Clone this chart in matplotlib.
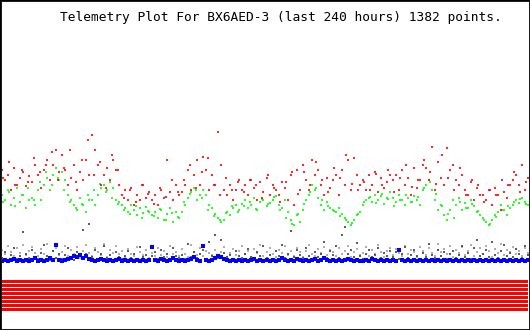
import numpy as np
import matplotlib.pyplot as plt
from matplotlib.patches import Rectangle

title = "Telemetry Plot For BX6AED-3 (last 240 hours) 1382 points."

# channel values (one sample every ~1.4 h)
red = [160, 150, 155, 140, 162, 145, 152, 158, 144, 154,
       148, 165, 155, 142, 160, 170, 150, 165, 180, 158,
       175, 160, 145, 152, 165, 140, 158, 150, 170, 155,
       195, 180, 165, 145, 155, 162, 150, 170, 160, 145,
       135, 140, 130, 142, 125, 135, 130, 145, 132, 138,
       130, 135, 125, 140, 132, 170, 138, 130, 145, 135,
       138, 145, 160, 140, 155, 170, 145, 173, 160, 140,
       155, 145, 198, 165, 140, 135, 145, 130, 140, 150,
       140, 145, 135, 150, 142, 130, 148, 138, 152, 135,
       145, 140, 135, 148, 142, 130, 155, 125, 160, 140,
       165, 150, 140, 170, 155, 160, 145, 135, 152, 142,
       150, 155, 135, 160, 145, 170, 140, 172, 155, 145,
       150, 140, 155, 145, 158, 138, 152, 142, 148, 155,
       150, 155, 140, 160, 145, 152, 135, 162, 142, 150,
       165, 162, 150, 183, 140, 168, 152, 145, 182, 160,
       165, 150, 145, 155, 140, 135, 148, 130, 142, 135,
       135, 130, 140, 125, 142, 135, 120, 138, 132, 145,
       150, 155, 145, 165, 140, 152]

green = [135, 130, 140, 125, 132, 142, 128, 135, 122, 130,
         132, 125, 140, 130, 145, 152, 140, 155, 162, 150,
         158, 150, 135, 130, 125, 120, 132, 125, 118, 130,
         130, 125, 135, 142, 145, 140, 148, 142, 130, 128,
         125, 122, 118, 125, 120, 115, 122, 117, 123, 118,
         115, 118, 112, 120, 110, 116, 122, 108, 118, 112,
         118, 125, 132, 138, 142, 130, 135, 140, 135, 125,
         122, 116, 112, 108, 110, 118, 115, 122, 125, 120,
         126, 130, 122, 125, 132, 120, 128, 130, 124, 127,
         130, 134, 125, 122, 130, 118, 110, 105, 115, 108,
         120, 130, 135, 145, 140, 132, 125, 120, 128, 122,
         120, 118, 122, 116, 112, 108, 105, 110, 115, 118,
         125, 130, 132, 128, 135, 130, 134, 126, 132, 138,
         132, 128, 135, 130, 125, 132, 128, 134, 130, 125,
         140, 145, 150, 140, 130, 120, 125, 115, 110, 120,
         130, 125, 132, 120, 127, 122, 130, 124, 118, 115,
         112, 108, 105, 110, 115, 118, 125, 120, 115, 122,
         125, 130, 127, 132, 128, 125]

# in-between samples (every ~2.7 h)
red_b = [152, 168, 145, 160, 148, 172, 158, 165, 178, 150,
         162, 180, 148, 170, 190, 155, 168, 142, 175, 160,
         132, 140, 128, 145, 136, 126, 142, 133, 150, 138,
         150, 165, 142, 158, 172, 145, 135, 152, 140, 148,
         138, 150, 145, 132, 155, 142, 128, 148, 158, 136,
         158, 145, 168, 150, 138, 162, 152, 175, 146, 140,
         148, 140, 156, 145, 160, 138, 152, 165, 143, 150,
         170, 158, 146, 175, 152, 140, 162, 135, 150, 145,
         128, 140, 135, 150, 145, 158, 138, 148]

green_b = [128, 138, 124, 135, 142, 130, 148, 158, 145, 152,
           140, 128, 122, 126, 135, 140, 146, 138, 132, 126,
           120, 116, 124, 112, 119, 114, 121, 110, 117, 113,
           128, 136, 140, 132, 120, 114, 110, 117, 124, 118,
           124, 128, 121, 131, 126, 133, 120, 112, 106, 116,
           126, 138, 142, 130, 124, 119, 114, 110, 107, 116,
           128, 133, 127, 136, 131, 124, 130, 135, 128, 133,
           142, 148, 136, 124, 116, 112, 128, 122, 126, 119,
           110, 106, 113, 120, 124, 128, 131, 126]

dark = [72, 78, 70, 75, 82, 71, 74, 98, 76, 72,
        80, 73, 71, 77, 85, 74, 70, 79, 72, 76,
        71, 75, 82, 73, 70, 78, 74, 100, 76, 106,
        73, 80, 71, 76, 84, 72, 75, 70, 78, 73,
        71, 74, 79, 72, 76, 70, 83, 73, 75, 71,
        74, 78, 71, 80, 73, 76, 70, 82, 74, 72,
        75, 71, 86, 73, 78, 72, 76, 80, 71, 88,
        74, 95, 72, 90, 77, 73, 75, 71, 79, 74,
        72, 76, 81, 73, 70, 78, 74, 84, 72, 75,
        71, 79, 74, 85, 72, 76, 99, 73, 80, 75,
        72, 82, 74, 71, 78, 73, 76, 88, 72, 79,
        75, 84, 72, 95, 103, 76, 80, 73, 87, 74,
        71, 76, 80, 73, 75, 82, 72, 77, 74, 79,
        73, 78, 71, 76, 83, 72, 75, 80, 74, 71,
        77, 73, 86, 75, 72, 80, 74, 78, 71, 76,
        79, 72, 75, 84, 73, 77, 71, 82, 90, 74,
        76, 80, 73, 88, 75, 72, 79, 85, 74, 77,
        73, 81, 76, 72, 84, 75]

light = [80, 76, 84, 78, 74, 82, 77, 85, 75, 79,
         83, 77, 74, 81, 76, 86, 73, 79, 82, 75,
         78, 84, 74, 80, 76, 83, 72, 79, 85, 77,
         74, 82, 78, 75, 86, 73, 80, 77, 84, 76,
         79, 73, 81, 76, 74, 83, 78, 75, 80, 72,
         77, 74, 82, 75, 79, 73, 84, 76, 78, 74,
         81, 76, 73, 85, 78, 75, 82, 74, 79, 77,
         75, 80, 74, 78, 83, 73, 77, 81, 75, 79,
         84, 76, 79, 73, 81, 77, 85, 74, 78, 82,
         76, 73, 80, 77, 84, 75, 79, 74, 82, 78,
         73, 79, 85, 76, 74, 81, 77, 83, 75, 80,
         78, 74, 82, 76, 79, 84, 73, 78, 81, 75,
         77, 83, 74, 80, 76, 85, 78, 73, 79, 82,
         75, 81, 77, 74, 84, 76, 80, 78, 73, 83,
         79, 75, 82, 77, 74, 86, 78, 81, 76, 84,
         73, 80, 77, 83, 75, 79, 85, 74, 78, 82,
         76, 84, 79, 73, 81, 77, 86, 75, 80, 78,
         83, 76, 79, 74, 82, 77]

blue = [69, 70, 69, 70, 71, 69, 70, 69, 70, 69,
        70, 72, 69, 70, 69, 70, 72, 70, 85, 70,
        69, 70, 71, 72, 74, 73, 75, 72, 74, 71,
        70, 69, 70, 71, 70, 69, 70, 69, 70, 71,
        69, 70, 69, 70, 69, 70, 69, 70, 69, 70,
        83, 70, 69, 71, 70, 69, 70, 72, 70, 69,
        70, 69, 70, 71, 73, 70, 69, 84, 70, 69,
        70, 72, 74, 73, 71, 70, 69, 70, 69, 70,
        69, 70, 69, 70, 71, 69, 70, 69, 70, 69,
        70, 69, 70, 72, 70, 69, 70, 69, 71, 70,
        69, 70, 69, 70, 71, 69, 70, 72, 70, 69,
        70, 69, 70, 69, 70, 71, 70, 69, 70, 69,
        69, 70, 69, 71, 70, 69, 70, 69, 70, 69,
        70, 69, 80, 70, 69, 70, 69, 70, 69, 70,
        69, 70, 69, 70, 69, 70, 69, 70, 69, 70,
        69, 70, 69, 70, 69, 70, 69, 70, 69, 70,
        69, 70, 69, 70, 69, 70, 69, 70, 69, 70,
        69, 70, 69, 70, 69, 70]

# fixed status levels drawn as a band at the bottom
levels = [49, 45, 41, 37, 33, 29, 25, 21]

hours = np.linspace(-240, 0, len(red))
hours_b = hours[1::2][:len(red_b)] - 0.7

fig = plt.figure(figsize=(5.3, 3.3), dpi=100)
ax = fig.add_axes([2 / 530, 0, 526 / 530, 1])
ax.set_xlim(-240, 0)
ax.set_ylim(0, 330)
ax.axis('off')

ax.hlines(levels, -240, 0, colors='#ff0000', linewidth=2.16, antialiased=False)

mk = dict(linestyle='none', marker='|', markersize=2.0, markeredgewidth=1.2,
          antialiased=False)
ax.plot(hours, light, color='#a0a0a0', **mk)
ax.plot(hours, dark, color='#404040', **mk)
ax.plot(hours, blue, color='#0000ff', linestyle='none', marker='s',
        markersize=2.2, markeredgewidth=0, antialiased=False)
ax.plot(hours, green, color='#00ff00', **mk)
ax.plot(hours_b, green_b, color='#00ff00', **mk)
ax.plot(hours, red, color='#ff0000', **mk)
ax.plot(hours_b, red_b, color='#ff0000', **mk)

fig.text(60 / 530, 1 - 17 / 330, title, family='DejaVu Sans Mono',
         fontsize=9.3, va='center', ha='left')

fig.patches.append(Rectangle((0, 0), 1, 1, transform=fig.transFigure,
                             fill=False, edgecolor='black', linewidth=2))

fig.savefig('out.png', dpi=100)
